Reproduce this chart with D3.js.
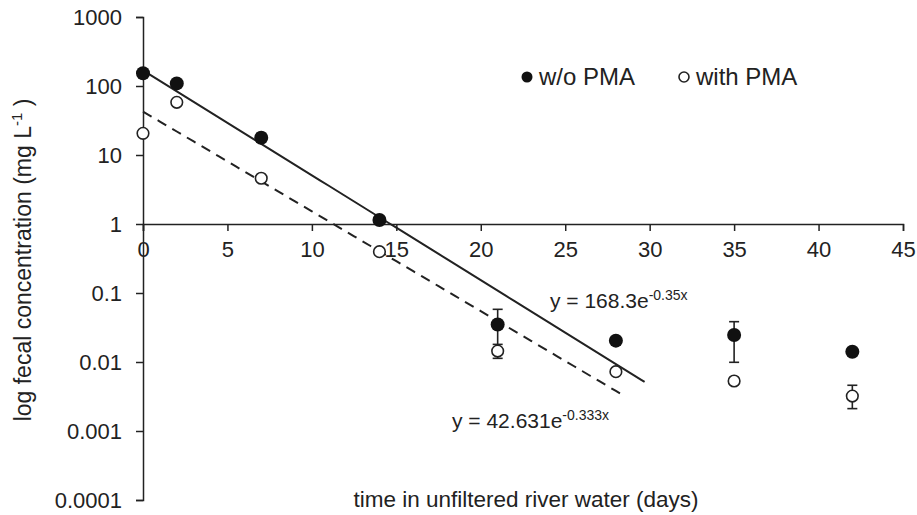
<!DOCTYPE html>
<html>
<head>
<meta charset="utf-8">
<script src="https://cdn.jsdelivr.net/npm/d3@7"></script>
<style>
  body { margin: 0; background: #fff; }
  text { font-family: "Liberation Sans", Arial, sans-serif; fill: #222; }
</style>
</head>
<body>
<div id="chart"></div>
<script>
// data
const days = [0, 2, 7, 14, 21, 28, 35, 42];
const withoutPMA = [153, 109, 17.8, 1.14, 0.035, 0.0204, 0.0246, 0.0141];
const withoutLow = [null, null, 15.5, null, 0.013, 0.0178, 0.0099, null];
const withoutHigh = [null, null, 20.5, null, 0.058, 0.0232, 0.0384, null];
const withPMA = [20.6, 58, 4.6, 0.397, 0.0144, 0.00724, 0.0053, 0.00321];
const withLow = [null, null, 4.2, null, 0.0113, null, null, 0.00211];
const withHigh = [null, null, 5.0, null, 0.018, null, null, 0.0046];
const xTicks = [0, 5, 10, 15, 20, 25, 30, 35, 40, 45];
const yTicks = [0.0001, 0.001, 0.01, 0.1, 1, 10, 100, 1000];
const yTickLabels = ['0.0001', '0.001', '0.01', '0.1', '1', '10', '100', '1000'];
// exponential fits: y = a * e^(b x), drawn up to xEnd
const fitWithout = {a: 168.3, b: -0.35, xEnd: 29.7};
const fitWith = {a: 42.631, b: -0.333, xEnd: 28.6};

const svgWidth = 917, svgHeight = 515;
const svg = d3.select('#chart')
    .append('svg')
    .attr('width', svgWidth)
    .attr('height', svgHeight);

const x = d3.scaleLinear().domain([0, 45]).range([143, 903]);
const y = d3.scaleLog().domain([0.0001, 1000]).range([500, 17]);

// y axis
const yAxis = svg.append('g')
    .attr('transform', `translate(${x(0)},0)`)
    .call(d3.axisLeft(y).tickValues(yTicks).tickFormat((d, i) => yTickLabels[i]).tickSizeOuter(0).tickSize(7).tickPadding(14));
yAxis.select('.domain').attr('stroke', '#222').attr('stroke-width', 1.5);
yAxis.selectAll('.tick line').attr('stroke', '#222').attr('stroke-width', 1.5);
yAxis.selectAll('.tick text').style('font-size', '22px').attr('fill', '#222');

// x axis crosses at y = 1
const xAxis = svg.append('g')
    .attr('transform', `translate(0,${y(1)})`)
    .call(d3.axisBottom(x).tickValues(xTicks).tickSizeOuter(0).tickSize(7).tickPadding(10));
xAxis.select('.domain').attr('stroke', '#222').attr('stroke-width', 1.5);
xAxis.selectAll('.tick line').attr('stroke', '#222').attr('stroke-width', 1.5);
xAxis.selectAll('.tick text').style('font-size', '22px').attr('fill', '#222');

// fit lines
function fitPoints(f) {
    return d3.range(0, f.xEnd + 0.001, 0.5).concat([f.xEnd]).map(t => [t, f.a * Math.exp(f.b * t)]);
}
const line = d3.line().x(d => x(d[0])).y(d => y(d[1]));
svg.append('path').datum(fitPoints(fitWithout))
    .attr('d', line).attr('fill', 'none').attr('stroke', '#222').attr('stroke-width', 2);
svg.append('path').datum(fitPoints(fitWith))
    .attr('d', line).attr('fill', 'none').attr('stroke', '#222').attr('stroke-width', 2)
    .attr('stroke-dasharray', '10,7');

// error bars
function errorBars(lows, highs) {
    const g = svg.append('g').attr('stroke', '#222').attr('stroke-width', 1.6);
    days.forEach((d, i) => {
        if (lows[i] == null) return;
        const cx = x(d);
        g.append('line').attr('x1', cx).attr('x2', cx).attr('y1', y(lows[i])).attr('y2', y(highs[i]));
        g.append('line').attr('x1', cx - 5).attr('x2', cx + 5).attr('y1', y(lows[i])).attr('y2', y(lows[i]));
        g.append('line').attr('x1', cx - 5).attr('x2', cx + 5).attr('y1', y(highs[i])).attr('y2', y(highs[i]));
    });
}
errorBars(withoutLow, withoutHigh);
errorBars(withLow, withHigh);

// points
svg.append('g').selectAll('circle').data(days).join('circle')
    .attr('cx', d => x(d)).attr('cy', (d, i) => y(withPMA[i]))
    .attr('r', 5.8).attr('fill', '#fff').attr('stroke', '#222').attr('stroke-width', 1.6);
svg.append('g').selectAll('circle').data(days).join('circle')
    .attr('cx', d => x(d)).attr('cy', (d, i) => y(withoutPMA[i]))
    .attr('r', 7).attr('fill', '#111');

// legend
svg.append('circle').attr('cx', 527).attr('cy', 77).attr('r', 5.5).attr('fill', '#111');
svg.append('text').attr('x', 539).attr('y', 85).style('font-size', '24px').text('w/o PMA');
svg.append('circle').attr('cx', 684).attr('cy', 77).attr('r', 5).attr('fill', '#fff')
    .attr('stroke', '#222').attr('stroke-width', 1.6);
svg.append('text').attr('x', 696).attr('y', 85).style('font-size', '24px').text('with PMA');

// equations
function equation(xPos, yPos, main, sup) {
    const t = svg.append('text').attr('x', xPos).attr('y', yPos).style('font-size', '21px');
    t.append('tspan').text(main);
    t.append('tspan').attr('dy', -8).style('font-size', '14px').text(sup);
}
equation(550, 308, 'y = 168.3e', '-0.35x');
equation(452, 428, 'y = 42.631e', '-0.333x');

// axis titles
svg.append('text')
    .attr('x', 526).attr('y', 507)
    .attr('text-anchor', 'middle')
    .style('font-size', '22.5px')
    .text('time in unfiltered river water (days)');

const yTitle = svg.append('text')
    .attr('transform', 'translate(31,260) rotate(-90)')
    .attr('text-anchor', 'middle')
    .style('font-size', '23px');
yTitle.append('tspan').text('log fecal concentration (mg L');
yTitle.append('tspan').attr('dy', -9).style('font-size', '15px').text('-1');
yTitle.append('tspan').attr('dy', 9).text(' )');
</script>
</body>
</html>
